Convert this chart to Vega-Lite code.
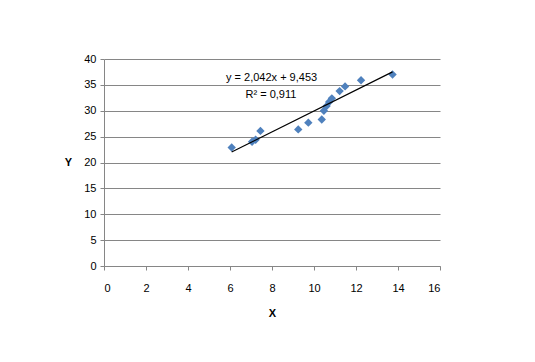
{
  "$schema": "https://vega.github.io/schema/vega-lite/v6.json",
  "width": 336,
  "height": 207,
  "autosize": {"type": "none"},
  "padding": {"left": 104, "top": 59, "right": 95, "bottom": 96},
  "background": "white",
  "config": {
    "view": {"stroke": null},
    "font": "Liberation Sans",
    "axis": {
      "labelFont": "Liberation Sans",
      "labelFontSize": 11,
      "labelColor": "#000000",
      "labelOverlap": false,
      "titleFont": "Liberation Sans",
      "titleFontSize": 11,
      "titleFontWeight": "bold",
      "titleColor": "#000000",
      "domainColor": "#868686",
      "tickColor": "#868686",
      "gridColor": "#868686",
      "tickSize": 4
    }
  },
  "datasets": {
    "pts": [
      {"X": 6.08, "Y": 22.9},
      {"X": 7.05, "Y": 24.0},
      {"X": 7.22, "Y": 24.4},
      {"X": 7.45, "Y": 26.1},
      {"X": 9.25, "Y": 26.4},
      {"X": 9.73, "Y": 27.7},
      {"X": 10.37, "Y": 28.3},
      {"X": 10.47, "Y": 30.0},
      {"X": 10.6, "Y": 30.9},
      {"X": 10.72, "Y": 31.7},
      {"X": 10.85, "Y": 32.4},
      {"X": 11.22, "Y": 33.8},
      {"X": 11.48, "Y": 34.7},
      {"X": 12.24, "Y": 35.9},
      {"X": 13.74, "Y": 37.0}
    ],
    "eq": [
      {"X": 7.98, "Y": 36.4, "label": "y = 2,042x + 9,453"},
      {"X": 7.95, "Y": 33.1, "label": "R² = 0,911"}
    ]
  },
  "encoding": {
    "x": {
      "field": "X", "type": "quantitative",
      "scale": {"domain": [0, 16], "nice": false},
      "axis": {
        "values": [0, 2, 4, 6, 8, 10, 12, 14, 16],
        "grid": false,
        "labelPadding": 12,
        "title": "X",
        "titleY": 47,
        "titleBaseline": "middle"
      }
    },
    "y": {
      "field": "Y", "type": "quantitative",
      "scale": {"domain": [0, 40], "nice": false},
      "axis": {
        "values": [0, 5, 10, 15, 20, 25, 30, 35, 40],
        "grid": true,
        "labelPadding": 4,
        "title": "Y",
        "titleAngle": 0,
        "titleX": -36,
        "titleY": 103,
        "titleAlign": "center",
        "titleBaseline": "middle"
      }
    }
  },
  "layer": [
    {
      "data": {"name": "pts"},
      "mark": {"type": "point", "shape": "diamond", "filled": true, "size": 70, "color": "#4F81BD", "opacity": 1}
    },
    {
      "data": {"name": "pts"},
      "transform": [{"regression": "Y", "on": "X", "method": "linear"}],
      "mark": {"type": "line", "color": "#000000", "strokeWidth": 1.2}
    },
    {
      "data": {"name": "eq"},
      "mark": {"type": "text", "fontSize": 11, "color": "#000000", "align": "center", "baseline": "middle"},
      "encoding": {
        "text": {"field": "label"}
      }
    }
  ]
}
